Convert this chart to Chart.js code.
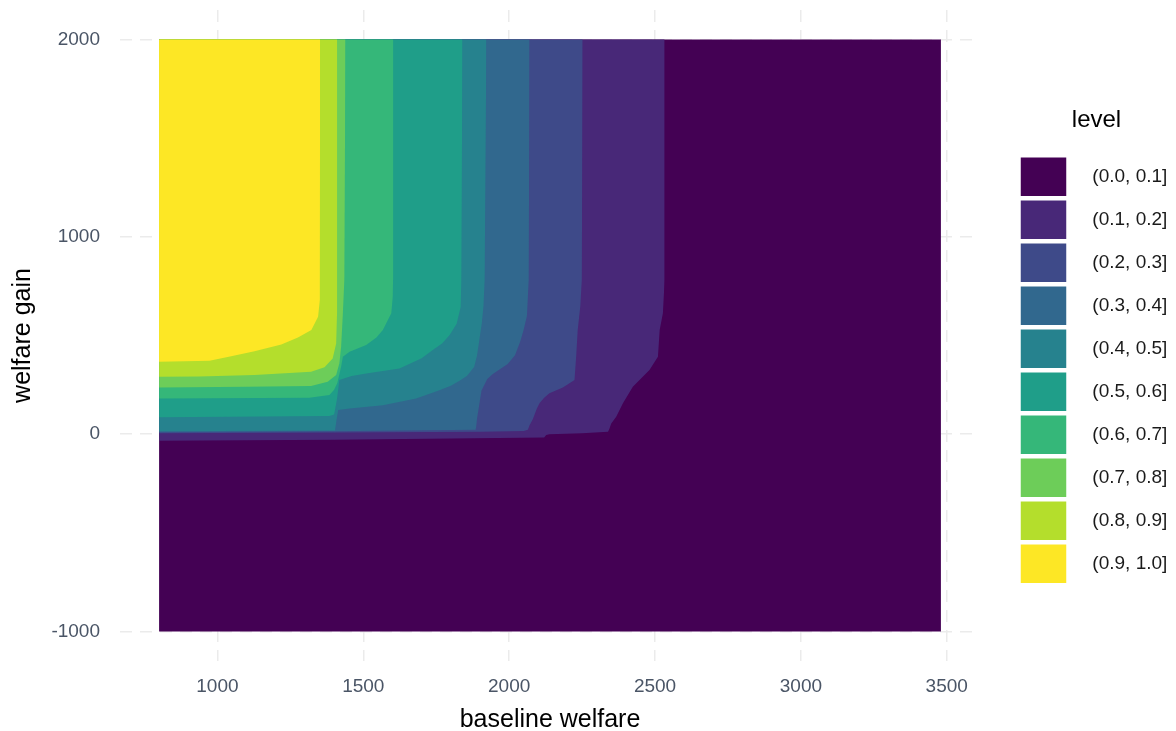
<!DOCTYPE html>
<html>
<head>
<meta charset="utf-8">
<script src="https://cdn.jsdelivr.net/npm/chart.js@4.4.0/dist/chart.umd.min.js"></script>
<style>
  body { margin: 0; background: #fff; }
  #contourChart { display: block; }
</style>
</head>
<body>
<canvas id="contourChart" width="1176" height="731"></canvas>
<script>
// level bins, one colour per bin (viridis)
const levels = ['(0.0, 0.1]', '(0.1, 0.2]', '(0.2, 0.3]', '(0.3, 0.4]', '(0.4, 0.5]',
                '(0.5, 0.6]', '(0.6, 0.7]', '(0.7, 0.8]', '(0.8, 0.9]', '(0.9, 1.0]'];
const levelColors = ['#440154', '#482878', '#3e4a89', '#31688e', '#26828e',
                     '#1f9e89', '#35b779', '#6dcd59', '#b4de2c', '#fde725'];

// data extent
const baselineRange = [800, 3480];
const gainRange = [-1000, 2000];

// tick labels
const xTicks = [1000, 1500, 2000, 2500, 3000, 3500];
const yTicks = [-1000, 0, 1000, 2000];

// contour lines [baseline welfare, welfare gain]; above/left of each line the level is higher
const contour01 = [[800, -33], [1400, -28], [1800, -22], [2120, -17], [2127, -5], [2138, 0], [2250, 5],
  [2339, 12], [2344, 29], [2350, 54], [2367, 88], [2390, 156], [2424, 240], [2481, 325], [2510, 392],
  [2516, 528], [2527, 613], [2533, 782], [2533, 2000]];
const contour02 = [[800, 5], [1400, 8], [1900, 12], [2050, 16], [2064, 22], [2070, 45], [2081, 75],
  [2095, 130], [2104, 156], [2120, 185], [2138, 207], [2184, 236], [2224, 274], [2230, 400], [2235, 528],
  [2244, 650], [2249, 782], [2252, 2000]];
const contour03 = [[800, 10], [1400, 14], [1885, 22], [1887, 37], [1890, 80], [1896, 135], [1905, 220],
  [1925, 280], [1944, 305], [1995, 355], [2020, 400], [2038, 470], [2050, 530], [2061, 600], [2067, 782],
  [2070, 2000]];
const contour04 = [[800, 14], [1403, 18], [1408, 70], [1414, 122], [1453, 130], [1567, 147], [1681, 181],
  [1761, 223], [1800, 245], [1830, 270], [1855, 295], [1880, 340], [1890, 400], [1898, 480], [1906, 560],
  [1912, 650], [1916, 782], [1922, 2000]];
const contour05 = [[800, 85], [1384, 92], [1400, 100], [1410, 180], [1418, 274], [1460, 295], [1510, 308],
  [1624, 333], [1700, 385], [1738, 426], [1770, 460], [1796, 503], [1820, 560], [1834, 646], [1836, 782],
  [1840, 2000]];
const contour06 = [[800, 181], [1315, 184], [1384, 198], [1400, 225], [1411, 259], [1424, 342], [1430, 392],
  [1453, 418], [1510, 452], [1545, 490], [1567, 528], [1596, 613], [1601, 697], [1602, 782], [1603, 2000]];
const contour07 = [[800, 237], [1100, 240], [1321, 244], [1378, 265], [1407, 300], [1418, 359], [1424, 443],
  [1430, 613], [1435, 782], [1439, 2000]];
const contour08 = [[800, 291], [937, 292], [1127, 300], [1321, 316], [1367, 339], [1395, 384], [1407, 460],
  [1410, 612], [1410, 782], [1411, 2000]];
const contour09 = [[800, 367], [973, 372], [1047, 395], [1127, 420], [1219, 455], [1276, 490], [1322, 528],
  [1345, 595], [1351, 680], [1351, 782], [1352, 2000]];

const contours = [
    [[baselineRange[0], gainRange[0]], [baselineRange[1], gainRange[0]]],
    contour01, contour02, contour03, contour04, contour05, contour06, contour07, contour08, contour09
];

const fontFamily = '"Liberation Sans", Arial, sans-serif';
const tickColor = '#4a5566';

// each band is filled from its lower contour up to the top of the data,
// higher levels are painted over lower ones
const datasets = contours.map((points, i) => ({
    label: levels[i],
    data: points.map(p => ({ x: p[0], y: p[1] })),
    backgroundColor: levelColors[i],
    borderColor: levelColors[i],
    borderWidth: 0,
    pointRadius: 0,
    tension: 0,
    fill: { value: gainRange[1] },
    order: contours.length - i,
    yAxisID: 'y'
}));

// keep the panel where ggplot puts it: no extra room for edge labels
function noEdgePadding(scale) {
    scale.paddingTop = 0;
    scale.paddingBottom = 0;
    scale.paddingLeft = 0;
    scale.paddingRight = 0;
}

const ctx = document.getElementById('contourChart').getContext('2d');
const contourChart = new Chart(ctx, {
    type: 'line',
    data: { datasets: datasets },
    options: {
        responsive: false,
        animation: false,
        layout: { padding: { top: 10 } },
        plugins: {
            tooltip: { enabled: false },
            legend: {
                position: 'right',
                align: 'start',
                maxWidth: 159,
                title: {
                    display: true,
                    text: 'level',
                    position: 'center',
                    color: '#000',
                    font: { family: fontFamily, size: 24 },
                    padding: { top: 98, bottom: 17 }
                },
                labels: {
                    boxWidth: 47,
                    boxHeight: 40,
                    padding: 3,
                    color: '#1a1a1a',
                    font: { family: fontFamily, size: 19 },
                    generateLabels: chart => chart.data.datasets.map((ds, i) => ({
                        text: '   ' + ds.label + '   ',
                        fillStyle: ds.backgroundColor,
                        strokeStyle: '#ffffff',
                        lineWidth: 1.5,
                        fontColor: '#1a1a1a',
                        hidden: false,
                        datasetIndex: i
                    }))
                }
            }
        },
        scales: {
            x: {
                type: 'linear',
                min: 666,
                max: 3614,
                afterFit: scale => { scale.height = 70; noEdgePadding(scale); },
                afterBuildTicks: scale => { scale.ticks = xTicks.map(v => ({ value: v })); },
                grid: { color: '#ebebeb', lineWidth: 1.5, drawTicks: false },
                border: { display: false, dash: [12, 8] },
                ticks: {
                    color: tickColor,
                    padding: 14,
                    font: { family: fontFamily, size: 19 },
                    callback: v => String(v)
                },
                title: {
                    display: true,
                    text: 'baseline welfare',
                    color: '#000',
                    font: { family: fontFamily, size: 25, lineHeight: 0.88 },
                    padding: 0
                }
            },
            y: {
                type: 'linear',
                min: -1150,
                max: 2150,
                afterFit: scale => { scale.width = 120; noEdgePadding(scale); },
                afterBuildTicks: scale => { scale.ticks = yTicks.map(v => ({ value: v })); },
                grid: { color: '#ebebeb', lineWidth: 1.5, drawTicks: false },
                border: { display: false, dash: [12, 8] },
                ticks: {
                    color: tickColor,
                    padding: 20,
                    font: { family: fontFamily, size: 19 },
                    callback: v => String(v)
                },
                title: {
                    display: true,
                    text: 'welfare gain',
                    color: '#000',
                    font: { family: fontFamily, size: 25, lineHeight: 1 },
                    padding: { top: 11, bottom: 0 }
                }
            },
            // empty spacer between the panel and the legend
            gap: {
                type: 'linear',
                position: 'right',
                display: true,
                afterFit: scale => { scale.width = 37; noEdgePadding(scale); },
                grid: { display: false, drawTicks: false },
                border: { display: false },
                ticks: { display: false }
            }
        }
    }
});
</script>
</body>
</html>
